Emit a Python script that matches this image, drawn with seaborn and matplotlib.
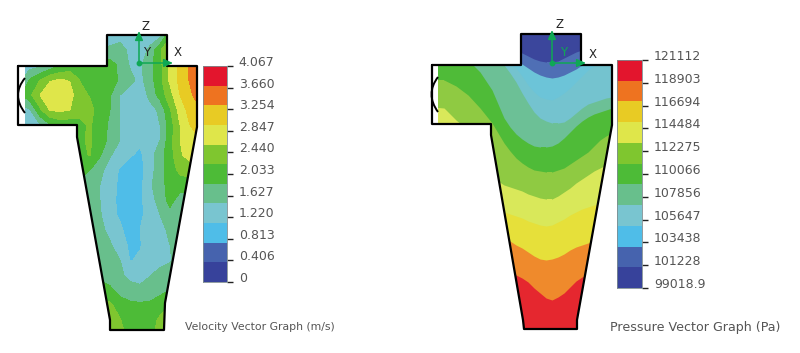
import numpy as np
import matplotlib
matplotlib.use('Agg')
import matplotlib.pyplot as plt
import seaborn as sns
from matplotlib.colors import ListedColormap
from matplotlib.patches import PathPatch, Rectangle
from matplotlib.path import Path

# --- Data ---
VELOCITY_TICKS = ['4.067', '3.660', '3.254', '2.847', '2.440', '2.033', '1.627', '1.220', '0.813', '0.406', '0']
PRESSURE_TICKS = ['121112', '118903', '116694', '114484', '112275', '110066', '107856', '105647', '103438', '101228', '99018.9']

BAND_COLORS = ['#37429b', '#4663ae', '#4fbde8', '#79c5d0', '#68bf8c', '#4dbb37',
               '#7fc62f', '#dfe64a', '#e8cb24', '#ee7320', '#e3152d']
PRESSURE_FIELD_COLORS = ['#3b469c', '#4f6fb5', '#6cc4d8', '#74c3cf', '#6cc096', '#4fbb38',
                         '#8fca42', '#d9e85a', '#e6e03a', '#ef8a2c', '#e5272f']

# velocity field, in colour band units, one row per 15 px of height, one column per 10 px of width
VELOCITY_ROWS = np.arange(35, 336, 15)
VELOCITY_COLS = np.arange(20, 201, 10)
VELOCITY_FIELD = [
    [3.5, 3.5, 3.5, 3.5, 3.5, 3.5, 3.5, 3.5, 3.5, 3.5, 3.5, 3.5, 3.5, 3.5, 3.6, 5.8, 6.5, 6.5, 6.5],
    [3.5, 3.5, 3.5, 3.5, 3.5, 3.5, 3.5, 3.5, 4.0, 4.2, 4.5, 3.7, 3.5, 4.2, 5.9, 6.8, 7.0, 7.0, 7.0],
    [3.5, 3.5, 3.7, 4.2, 4.9, 5.3, 5.5, 5.5, 5.5, 5.5, 4.7, 3.9, 3.8, 4.7, 5.7, 7.2, 8.3, 9.1, 9.8],
    [3.9, 5.1, 6.0, 6.9, 7.05, 6.95, 5.95, 5.6, 5.5, 5.3, 4.9, 4.3, 3.7, 4.6, 5.7, 7.2, 8.3, 9.1, 9.8],
    [4.8, 5.8, 7.0, 7.8, 7.8, 7.3, 6.4, 5.9, 5.5, 5.1, 4.0, 3.5, 3.3, 4.3, 5.4, 6.6, 8.0, 8.8, 9.6],
    [3.5, 3.9, 5.8, 7.05, 7.2, 7.0, 6.3, 6.3, 5.5, 5.0, 4.0, 3.5, 3.3, 3.6, 4.2, 5.9, 7.4, 8.4, 8.9],
    [3.5, 3.5, 3.9, 4.9, 5.3, 5.3, 5.8, 6.1, 5.5, 4.8, 4.0, 3.5, 3.3, 3.4, 4.0, 5.5, 7.0, 8.0, 8.4],
    [5.8, 5.8, 5.8, 5.8, 5.8, 5.8, 5.9, 6.1, 5.4, 4.8, 4.0, 3.5, 3.2, 3.3, 4.0, 5.6, 7.0, 7.9, 8.0],
    [5.8, 5.8, 5.8, 5.8, 5.8, 5.8, 5.8, 6.05, 5.1, 4.1, 3.5, 3.1, 2.8, 3.6, 4.6, 5.6, 6.9, 7.3, 7.3],
    [5.3, 5.3, 5.3, 5.3, 5.3, 5.3, 5.3, 5.0, 4.3, 3.5, 2.9, 2.4, 2.7, 3.5, 4.7, 5.4, 6.3, 6.6, 6.6],
    [4.8, 4.8, 4.8, 4.8, 4.8, 4.8, 4.8, 4.6, 4.0, 3.4, 2.8, 2.4, 2.7, 3.8, 4.7, 5.3, 5.4, 5.4, 5.4],
    [4.6, 4.6, 4.6, 4.6, 4.6, 4.6, 4.6, 4.6, 4.0, 3.4, 2.7, 2.4, 2.8, 3.5, 4.5, 5.3, 4.6, 4.5, 4.5],
    [4.6, 4.6, 4.6, 4.6, 4.6, 4.6, 4.6, 4.6, 4.1, 3.3, 2.85, 2.4, 2.8, 3.4, 4.0, 4.7, 4.6, 4.5, 4.5],
    [4.6, 4.6, 4.6, 4.6, 4.6, 4.6, 4.6, 4.6, 4.2, 3.8, 3.2, 2.5, 3.0, 3.4, 3.7, 4.2, 4.5, 4.5, 4.5],
    [4.5, 4.5, 4.5, 4.5, 4.5, 4.5, 4.5, 4.5, 4.4, 4.1, 3.5, 2.8, 2.95, 3.3, 3.7, 4.0, 4.4, 4.5, 4.5],
    [4.5, 4.5, 4.5, 4.5, 4.5, 4.5, 4.5, 4.5, 4.5, 4.3, 4.0, 2.95, 3.1, 3.5, 3.7, 3.9, 4.5, 4.5, 4.5],
    [4.8, 4.8, 4.8, 4.8, 4.8, 4.8, 4.8, 4.8, 4.8, 4.5, 4.2, 3.7, 3.5, 3.95, 4.3, 4.5, 4.5, 4.5, 4.5],
    [5.3, 5.3, 5.3, 5.3, 5.3, 5.3, 5.3, 5.3, 5.3, 5.2, 4.6, 4.4, 4.3, 4.4, 4.7, 5.0, 5.2, 5.2, 5.2],
    [6.5, 6.5, 6.5, 6.5, 6.5, 6.5, 6.5, 6.5, 6.5, 6.2, 5.5, 5.2, 5.15, 5.2, 5.5, 6.0, 6.0, 6.0, 6.0],
    [6.5, 6.5, 6.5, 6.5, 6.5, 6.5, 6.5, 6.5, 6.5, 6.4, 6.05, 5.5, 5.4, 5.5, 6.2, 6.5, 6.5, 6.5, 6.5],
    [6.5, 6.5, 6.5, 6.5, 6.5, 6.5, 6.5, 6.5, 6.5, 6.5, 6.3, 5.7, 5.4, 5.7, 6.5, 6.5, 6.5, 6.5, 6.5],
]

# pressure field: depth at which each colour band starts along the width of the vessel
PRESSURE_COLS = [432, 444, 456, 468, 480, 492, 498, 504, 510, 516, 522, 528, 534, 540, 546, 552,
                 558, 564, 570, 576, 582, 588, 594, 600, 606, 612]
PRESSURE_BAND_STARTS = [
    [30, 30, 30, 30, 30, 30, 30, 30, 30, 50, 53, 56, 59, 61, 62, 62, 61, 58, 55, 52, 50, 30, 30, 30, 30, 30],
    [30, 30, 30, 30, 30, 30, 30, 30, 30, 60, 64, 68, 72, 75, 77, 78, 77, 75, 72, 69, 65, 62, 30, 30, 30, 30],
    [30, 30, 30, 30, 30, 30, 30, 60, 64, 68, 76, 85, 92, 97, 99, 100, 97, 93, 88, 82, 76, 70, 66, 62, 60, 58],
    [30, 30, 30, 30, 30, 50, 58, 65, 73, 82, 93, 103, 112, 118, 121, 123, 123, 122, 118, 113, 108, 104, 102, 100, 98, 97],
    [30, 30, 40, 60, 72, 90, 104, 118, 127, 134, 139, 143, 146, 147, 147, 146, 143, 138, 132, 126, 121, 117, 114, 112, 110, 108],
    [80, 80, 86, 95, 108, 123, 133, 143, 151, 158, 163, 167, 170, 171, 172, 172, 170, 168, 164, 160, 156, 152, 146, 140, 136, 133],
    [107, 108, 120, 130, 150, 175, 181, 185, 187, 189, 191, 194, 196, 198, 199, 199, 196, 192, 188, 183, 179, 175, 171, 168, 165, 162],
    [205, 205, 205, 205, 205, 205, 209, 212, 214, 216, 218, 221, 223, 225, 226, 225, 222, 219, 215, 212, 209, 207, 205, 204, 202, 200],
    [235, 235, 235, 235, 235, 235, 236, 238, 241, 245, 248, 252, 256, 259, 260, 259, 257, 254, 250, 247, 245, 243, 241, 240, 239, 238],
    [270, 270, 270, 270, 270, 270, 270, 270, 272, 275, 278, 282, 288, 293, 298, 300, 297, 293, 287, 281, 277, 275, 272, 270, 270, 270],
]

# vessel outlines in picture pixels
VELOCITY_OUTLINE = [(18, 66), (107, 66), (107, 35), (167, 35), (167, 66), (197, 66), (197, 127),
                    (165, 303), (164, 330), (110, 330), (110, 320), (77, 137), (77, 125), (18, 125), (18, 66)]
PRESSURE_OUTLINE = [(432, 65), (521, 65), (521, 34), (581, 34), (581, 65), (612, 65), (612, 125),
                    (577, 320), (577, 329), (524, 329), (523, 320), (491, 135), (491, 124), (432, 124), (432, 65)]

WIDTH, HEIGHT = 800, 353
GREEN = '#0fa855'


def draw_vessel(ax, outline, field_artists, inlet_x, arc):
    """Clips the colour field to the vessel and draws its outline and inlet."""
    clip = PathPatch(Path(outline), facecolor='none', edgecolor='none')
    ax.add_patch(clip)
    for artist in field_artists:
        artist.set_clip_path(clip)

    x0 = outline[0][0]
    ax.add_patch(Rectangle((x0, outline[0][1]), inlet_x - x0, outline[-2][1] - outline[0][1],
                           facecolor='white', edgecolor='none', zorder=3))
    xs, ys = zip(*outline)
    sns.lineplot(x=list(xs), y=list(ys), sort=False, estimator=None, color='black',
                 linewidth=1.6, ax=ax, zorder=5)
    ax.add_patch(PathPatch(Path(arc, [Path.MOVETO, Path.CURVE3, Path.CURVE3]),
                           facecolor='none', edgecolor='black', linewidth=1.4, zorder=4))


def draw_triad(ax, origin, z_top, x_right, z_pos, y_pos, x_pos, y_color):
    """Draws the green Z / X axes marker with its letters."""
    ox, oy = origin
    for end in [(ox, z_top), (x_right, oy)]:
        ax.annotate('', xy=end, xytext=origin, zorder=6,
                    arrowprops=dict(arrowstyle='-|>,head_width=0.2,head_length=0.45', mutation_scale=12,
                                    color=GREEN, lw=1.1, shrinkA=0, shrinkB=0))
    ax.plot([ox], [oy], 'o', color=GREEN, markersize=3.2, zorder=7)
    ax.text(*z_pos, 'Z', fontsize=8.5, color='#222222', ha='center', va='center', zorder=7)
    ax.text(*y_pos, 'Y', fontsize=8.5, color=y_color, ha='center', va='center', zorder=7)
    ax.text(*x_pos, 'X', fontsize=8.5, color='#222222', ha='center', va='center', zorder=7)


def draw_colorbar(fig, left, top, right, bottom, labels):
    """Draws an 11 band legend; its ticks run evenly from the top edge to the bottom edge."""
    cax = fig.add_axes([left / WIDTH, 1 - bottom / HEIGHT, (right - left) / WIDTH, (bottom - top) / HEIGHT])
    bands = np.arange(len(BAND_COLORS))[::-1].reshape(-1, 1)
    sns.heatmap(bands, cmap=ListedColormap(BAND_COLORS), cbar=False, ax=cax,
                xticklabels=False, yticklabels=False, vmin=-0.5, vmax=10.5)
    cax.yaxis.tick_right()
    cax.set_yticks(np.linspace(0, len(BAND_COLORS), len(labels)))
    cax.set_yticklabels(labels, rotation=0, fontsize=9, color='#555555')
    cax.tick_params(axis='y', length=4.5, width=1, color='#222222', pad=4, right=True, left=False)
    plt.setp(cax.get_yticklabels(), va='baseline')
    for spine in cax.spines.values():
        spine.set_visible(True)
        spine.set_color('#7d8c90')
        spine.set_linewidth(0.6)


def plot_vector_graphs(output_png):
    sns.set_theme(style='white')
    plt.rcParams['font.family'] = ['DejaVu Sans']

    fig = plt.figure(figsize=(WIDTH / 100, HEIGHT / 100), dpi=100)
    ax = fig.add_axes([0, 0, 1, 1])
    ax.set_xlim(0, WIDTH)
    ax.set_ylim(HEIGHT, 0)
    ax.axis('off')

    # left: velocity contours
    contour = ax.contourf(VELOCITY_COLS, VELOCITY_ROWS, np.array(VELOCITY_FIELD), levels=np.arange(0, 12),
                          colors=BAND_COLORS, zorder=1)
    draw_vessel(ax, VELOCITY_OUTLINE, [contour], 25, [(25, 78), (11, 95), (25, 113)])
    draw_triad(ax, (139, 63), 31, 173, (146, 26), (147, 53), (178, 53), '#222222')
    draw_colorbar(fig, 203, 66, 227, 282, VELOCITY_TICKS)
    ax.text(185, 327, 'Velocity Vector Graph (m/s)', fontsize=7.8, color='#555555', va='center')

    # right: pressure bands, painted from the top band down
    layers = [ax.fill_between(PRESSURE_COLS, 30, 340, color=PRESSURE_FIELD_COLORS[0], linewidth=0, zorder=1)]
    for color, starts in zip(PRESSURE_FIELD_COLORS[1:], PRESSURE_BAND_STARTS):
        layers.append(ax.fill_between(PRESSURE_COLS, starts, 340, color=color, linewidth=0, zorder=1))
    draw_vessel(ax, PRESSURE_OUTLINE, layers, 438, [(438, 77), (425, 94), (438, 112)])
    draw_triad(ax, (552, 63), 30, 586, (560, 25), (564, 52), (593, 55), GREEN)
    draw_colorbar(fig, 617, 60, 642, 288, PRESSURE_TICKS)
    ax.text(610, 327, 'Pressure Vector Graph (Pa)', fontsize=9.1, color='#555555', va='center')

    fig.savefig(output_png, dpi=100)


if __name__ == '__main__':
    plot_vector_graphs('out.png')
